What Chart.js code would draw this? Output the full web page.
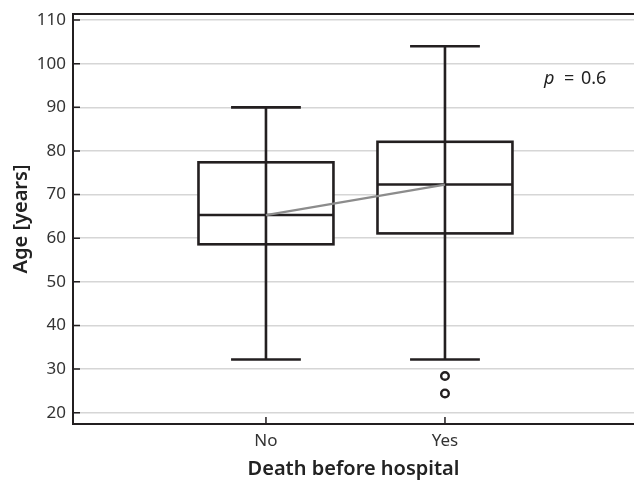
<!DOCTYPE html>
<html>
<head>
<meta charset="utf-8">
<script src="https://cdn.jsdelivr.net/npm/chart.js@4.4.1/dist/chart.umd.min.js"></script>
<style>
  html, body { margin: 0; padding: 0; background: #fff; overflow: hidden; }
  #wrap { width: 634px; height: 481px; }
</style>
</head>
<body>
<div id="wrap"><canvas id="chart" width="634" height="481"></canvas></div>
<script>
// --- data ---
const groups = ["No", "Yes"];
const groupX = [1, 2];
const whiskerLow = [32.2, 32.2];
const q1 = [58.6, 61.1];
const median = [65.3, 72.3];
const q3 = [77.4, 82.1];
const whiskerHigh = [90, 104];
const outlierX = [2, 2];
const outlierY = [28.4, 24.4];
const yTicks = [20, 25, 30, 35, 40, 45, 50, 55, 60, 65, 70, 75, 80, 85, 90, 95, 100, 105, 110];
const pLabel = ["p", "=", "0.6"];

const INK = "#231f20";
const FONT = "'Noto Sans', sans-serif";

/* 箱ひげ・枠・内向き目盛りを描くプラグイン */
const boxPlugin = {
  id: 'boxDraw',
  beforeDatasetsDraw(chart) {
    const { ctx, scales: { x, y } } = chart;
    ctx.save();
    ctx.strokeStyle = INK;
    ctx.lineWidth = 2.6;
    groups.forEach((g, i) => {
      const cx = x.getPixelForValue(groupX[i]);
      const bl = x.getPixelForValue(groupX[i] - 0.377);
      const br = x.getPixelForValue(groupX[i] + 0.377);
      const cl = x.getPixelForValue(groupX[i] - 0.195);
      const cr = x.getPixelForValue(groupX[i] + 0.195);
      const yLo = y.getPixelForValue(whiskerLow[i]);
      const yHi = y.getPixelForValue(whiskerHigh[i]);
      const y1 = y.getPixelForValue(q1[i]);
      const y3 = y.getPixelForValue(q3[i]);
      const ym = y.getPixelForValue(median[i]);
      // whiskers
      ctx.beginPath();
      ctx.moveTo(cx, yLo); ctx.lineTo(cx, yHi);
      ctx.moveTo(cl, yLo); ctx.lineTo(cr, yLo);
      ctx.moveTo(cl, yHi); ctx.lineTo(cr, yHi);
      ctx.stroke();
      // box
      ctx.fillStyle = "#fff";
      ctx.fillRect(bl, y3, br - bl, y1 - y3);
      ctx.strokeRect(bl, y3, br - bl, y1 - y3);
      ctx.beginPath();
      ctx.moveTo(cx, y3); ctx.lineTo(cx, y1);
      ctx.moveTo(bl, ym); ctx.lineTo(br, ym);
      ctx.stroke();
    });
    ctx.restore();
  },
  afterDatasetsDraw(chart) {
    const { ctx, chartArea: a, scales: { x, y } } = chart;
    ctx.save();
    ctx.strokeStyle = INK;
    ctx.lineWidth = 1.5;
    ctx.beginPath();
    y.ticks.forEach(t => {
      const py = y.getPixelForValue(t.value);
      const len = t.value % 10 === 0 ? 7 : 4;
      ctx.moveTo(a.left, py); ctx.lineTo(a.left + len, py);
    });
    x.ticks.forEach(t => {
      const px = x.getPixelForValue(t.value);
      ctx.moveTo(px, a.bottom); ctx.lineTo(px, a.bottom - 7);
    });
    ctx.stroke();
    // top frame line
    ctx.lineWidth = 2;
    ctx.beginPath();
    ctx.moveTo(a.left - 1, a.top); ctx.lineTo(a.right, a.top);
    ctx.stroke();
    // p value
    ctx.fillStyle = "#222";
    ctx.textBaseline = "alphabetic";
    ctx.textAlign = "left";
    const ty = 84;
    ctx.font = "italic 18px " + FONT;
    ctx.fillText(pLabel[0], 544, ty);
    ctx.font = "18px " + FONT;
    ctx.fillText(pLabel[1], 564, ty);
    ctx.fillText(pLabel[2], 581, ty);
    ctx.restore();
  }
};

new Chart(document.getElementById("chart"), {
  type: "scatter",
  data: {
    datasets: [
      {
        type: "line",
        data: groupX.map((gx, i) => ({ x: gx, y: median[i] })),
        borderColor: "#8c8c8c",
        borderWidth: 2.2,
        pointRadius: 0,
        fill: false
      },
      {
        data: outlierX.map((ox, i) => ({ x: ox, y: outlierY[i] })),
        pointRadius: 3.8,
        pointBorderWidth: 2.4,
        pointBorderColor: INK,
        pointBackgroundColor: "#fff"
      }
    ]
  },
  plugins: [boxPlugin],
  options: {
    responsive: false,
    animation: false,
    layout: { autoPadding: false, padding: { top: 14, left: 0, right: 0, bottom: 0 } },
    plugins: { legend: { display: false }, tooltip: { enabled: false } },
    scales: {
      x: {
        type: "linear",
        min: -0.078,
        max: 3.056,
        afterBuildTicks: s => { s.ticks = groupX.map(v => ({ value: v })); },
        afterFit: s => { s.height = 57; s.paddingLeft = 0; s.paddingRight = 0; },
        grid: { display: false, drawTicks: false },
        border: { display: true, color: INK, width: 2 },
        ticks: {
          padding: 7,
          color: "#333",
          font: { family: FONT, size: 17 },
          callback: v => groups[groupX.indexOf(v)] ?? ""
        },
        title: {
          display: true,
          text: "Death before hospital",
          color: "#222",
          font: { family: FONT, size: 20, weight: "600" },
          padding: { top: 0, bottom: 0 }
        }
      },
      y: {
        min: 17.4,
        max: 111.4,
        afterBuildTicks: s => { s.ticks = yTicks.map(v => ({ value: v })); },
        afterFit: s => { s.width = 73; s.paddingTop = 0; s.paddingBottom = 0; },
        grid: {
          drawTicks: false,
          color: c => (c.tick && c.tick.value % 10 === 0) ? "#d6d6d6" : "rgba(0,0,0,0)",
          lineWidth: 1.5
        },
        border: { display: true, color: INK, width: 2 },
        ticks: {
          padding: 7,
          color: "#333",
          font: { family: FONT, size: 17 },
          callback: v => v % 10 === 0 ? v : ""
        },
        title: {
          display: true,
          text: "Age [years]",
          color: "#222",
          font: { family: FONT, size: 20, weight: "600" },
          padding: { top: 9, bottom: 0 }
        }
      }
    }
  }
});
</script>
</body>
</html>
